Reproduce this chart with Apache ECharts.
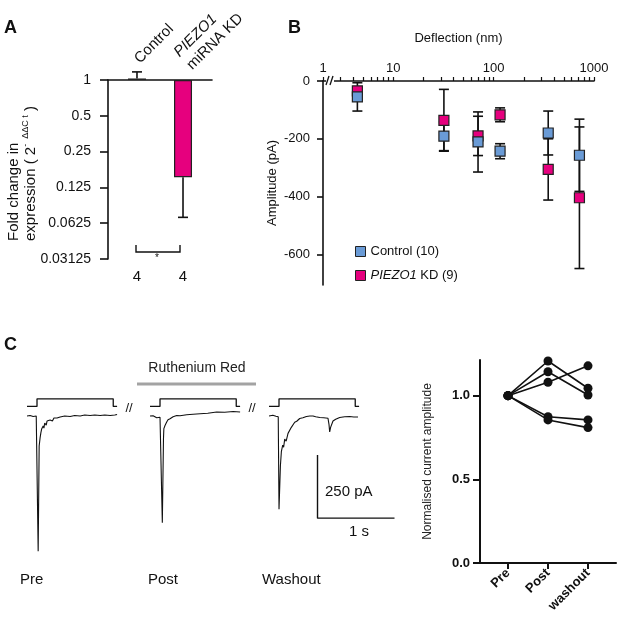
<!DOCTYPE html>
<html><head><meta charset="utf-8">
<script src="https://cdn.jsdelivr.net/npm/echarts@6/dist/echarts.min.js"></script>
<style>html,body{margin:0;padding:0;background:#fff}#c{width:617px;height:630px}</style>
</head><body><div id="c"></div>
<script>
// ---------- Panel A ----------
const aCategories = ['Control', 'PIEZO1 miRNA KD'];
const aFoldChange = [1.03, 0.152];
const aErrEnd = [1.17, 0.070];
const aN = [4, 4];
const aYTicks = [1, 0.5, 0.25, 0.125, 0.0625, 0.03125];

// ---------- Panel B ----------
const bDeflection = [4.4, 32, 70, 116, 350, 716];
const bControlMean = [-55, -191, -211, -243, -180, -257];
const bControlErr = [49, 50, 104, 26, 76, 125];
const bKdMean = [-34, -136, -190, -117, -306, -404];
const bKdErr = [12, 107, 68, 24, 106, 245];
const bXTickValues = [2, 10, 100, 1000];
const bXTickLabels = ['1', '10', '100', '1000'];
const bXMinorTicks = [3,4,5,6,7,8,9,20,30,40,50,60,70,80,90,200,300,400,500,600,700,800,900];
const bYTicks = [0, -200, -400, -600];

// ---------- Panel C traces (time in s, current in pA) ----------
const preT = [0,0.04,0.08,0.12,0.14,0.145,0.158,0.17,0.18,0.19,0.21,0.22,0.23,0.25,0.26,0.27,0.30,0.33,0.35,0.39,0.43,0.49,0.56,0.62,0.69,0.75,0.82,0.88,0.95,1.01,1.08,1.14,1.17];
const preI = [0,2,-2,0,-4,-536,-119,-87,-67,-52,-40,-48,-28,-36,-20,-24,-16,-20,-8,-8,-4,0,-2,2,0,4,2,4,2,4,2,4,6];
const postT = [0,0.04,0.087,0.13,0.15,0.16,0.175,0.18,0.195,0.217,0.234,0.26,0.30,0.347,0.39,0.477,0.56,0.65,0.75,0.866,0.97,1.08,1.17];
const postI = [0,1,-7,-5,-11,-423,-90,-50,-38,-24,-15,-11,-3,2,1,5,7,9,11,16,15,18,16];
const washT = [0,0.05,0.09,0.12,0.13,0.148,0.161,0.178,0.19,0.204,0.223,0.247,0.269,0.29,0.308,0.334,0.36,0.399,0.44,0.486,0.53,0.571,0.607,0.659,0.71,0.766,0.779,0.788,0.80,0.831,0.866,0.918,0.983,1.048,1.10,1.156];
const washI = [0,3,-1,-3,-370,-198,-140,-116,-124,-92,-100,-69,-65,-45,-49,-25,-21,-10,-7,-2,0,0,-3,-6,-7,-9,-33,-63,-45,-20,-13,-6,-3,-2,-4,-4];
const stimT = [0,0.13,0.13,1.12,1.12,1.17];
const stimLevel = [38,38,68,68,38,38];
const scaleBarT0 = 0.63, scaleBarI0 = -155, scaleBarPA = 250, scaleBarS = 1;
const traceNames = ['Pre', 'Post', 'Washout'];

// ---------- Panel C right ----------
const cConditions = ['Pre', 'Post', 'washout'];
const cPre = [1, 1, 1, 1, 1];
const cPost = [1.207, 1.143, 1.080, 0.874, 0.855];
const cWash = [1.044, 1.004, 1.178, 0.855, 0.809];

const FONT = 'Liberation Sans, Arial, sans-serif';
const PINK = '#e6007e', BLUE = '#6a9bd6', INK = '#111';
const zip = (a, b) => a.map((v, i) => [v, b[i]]);

const chart = echarts.init(document.getElementById('c'), null, {renderer: 'canvas'});

function errBarB(api) {
  const x = api.value(0), m = api.value(1), e = api.value(2);
  const t = api.coord([x, m + e]), b = api.coord([x, m - e]);
  const st = {stroke: INK, lineWidth: 1.6};
  return {type: 'group', children: [
    {type: 'line', shape: {x1: t[0], y1: t[1], x2: b[0], y2: b[1]}, style: st},
    {type: 'line', shape: {x1: t[0]-5, y1: t[1], x2: t[0]+5, y2: t[1]}, style: st},
    {type: 'line', shape: {x1: b[0]-5, y1: b[1], x2: b[0]+5, y2: b[1]}, style: st}
  ]};
}
function errBarA(params, api) {
  const x = api.value(0), m = api.value(1), e = api.value(2);
  const p0 = api.coord([x, m]), p1 = api.coord([x, e]);
  const st = {stroke: INK, lineWidth: 1.6};
  return {type: 'group', children: [
    {type: 'line', shape: {x1: p0[0], y1: p0[1], x2: p1[0], y2: p1[1]}, style: st},
    {type: 'line', shape: {x1: p1[0]-5, y1: p1[1], x2: p1[0]+5, y2: p1[1]}, style: st}
  ]};
}

const axisLine = (w) => ({show: true, onZero: false, lineStyle: {color: INK, width: w}});

const traceGrid = {top: 390, height: 170, outerBoundsMode: 'none', containLabel: false};
const option = {
  backgroundColor: '#fff',
  animation: false,
  textStyle: {fontFamily: FONT, color: INK},
  grid: [
    {left: 108, top: 80, width: 104, height: 179, outerBoundsMode: 'none', containLabel: false},
    {left: 323, top: 81, width: 271, height: 204, outerBoundsMode: 'none', containLabel: false},
    Object.assign({left: 27, width: 90}, traceGrid),
    Object.assign({left: 150, width: 90}, traceGrid),
    Object.assign({left: 269, width: 131}, traceGrid),
    {left: 480, top: 360, width: 136, height: 203, outerBoundsMode: 'none', containLabel: false}
  ],
  xAxis: [
    {gridIndex: 0, type: 'value', position: 'top', min: -0.63, max: 1.63,
     axisLine: axisLine(1.6), axisTick: {show: false}, splitLine: {show: false},
     axisLabel: {customValues: [0, 1], rotate: -45, margin: 19, fontSize: 15, lineHeight: 18, color: INK, fontFamily: FONT,
       formatter: v => v === 0 ? aCategories[0] : '{i|PIEZO1}\nmiRNA KD',
       rich: {i: {fontStyle: 'italic', fontSize: 15, lineHeight: 18, fontFamily: FONT, color: INK}}}},
    {gridIndex: 0, type: 'value', position: 'bottom', min: -0.63, max: 1.63,
     axisLine: {show: false}, axisTick: {show: false}, splitLine: {show: false},
     axisLabel: {customValues: [0, 1], margin: 10, fontSize: 15, color: INK, fontFamily: FONT,
       formatter: v => String(aN[Math.round(v)])}},
    {gridIndex: 1, type: 'log', logBase: 10, position: 'top', min: 2, max: 1000,
     axisLine: axisLine(1.6), splitLine: {show: false},
     axisTick: {show: true, length: 4, customValues: bXTickValues.concat(bXMinorTicks), lineStyle: {color: INK, width: 1.2}},
     axisLabel: {customValues: bXTickValues, margin: 6, fontSize: 13, color: INK, fontFamily: FONT,
       formatter: v => bXTickLabels[bXTickValues.indexOf(Math.round(v))]},
     name: 'Deflection (nm)', nameLocation: 'middle', nameGap: 36,
     nameTextStyle: {fontSize: 13, color: INK, fontFamily: FONT}},
    {gridIndex: 2, type: 'value', min: 0, max: 90/77, show: false},
    {gridIndex: 3, type: 'value', min: 0, max: 90/77, show: false},
    {gridIndex: 4, type: 'value', min: 0, max: 131/77, show: false},
    {gridIndex: 5, type: 'value', min: -0.7, max: 2.7,
     axisLine: axisLine(2), splitLine: {show: false},
     axisTick: {customValues: [0, 1, 2], length: 6, lineStyle: {color: INK, width: 2}},
     axisLabel: {customValues: [0, 1, 2], rotate: 45, margin: 8, fontSize: 13, fontWeight: 'bold', color: INK, fontFamily: FONT,
       formatter: v => cConditions[Math.round(v)]}}
  ],
  yAxis: [
    {gridIndex: 0, type: 'log', logBase: 2, min: 0.03125, max: 1,
     axisLine: axisLine(1.6), splitLine: {show: false},
     axisTick: {customValues: aYTicks, length: 8, lineStyle: {color: INK, width: 1.6}},
     axisLabel: {customValues: aYTicks, margin: 17, fontSize: 14, color: INK, fontFamily: FONT, formatter: v => String(v)}},
    {gridIndex: 1, type: 'value', min: -706, max: 0,
     axisLine: axisLine(1.6), splitLine: {show: false},
     axisTick: {customValues: bYTicks, length: 6, lineStyle: {color: INK, width: 1.6}},
     axisLabel: {customValues: bYTicks, margin: 13, fontSize: 13, color: INK, fontFamily: FONT},
     name: 'Amplitude (pA)', nameLocation: 'middle', nameGap: 44, nameRotate: 90,
     nameTextStyle: {fontSize: 13, color: INK, fontFamily: FONT}},
    {gridIndex: 2, type: 'value', min: -571, max: 103, show: false},
    {gridIndex: 3, type: 'value', min: -571, max: 103, show: false},
    {gridIndex: 4, type: 'value', min: -571, max: 103, show: false},
    {gridIndex: 5, type: 'value', min: 0, max: 1.213,
     axisLine: axisLine(2), splitLine: {show: false},
     axisTick: {customValues: [0, 0.5, 1], length: 7, lineStyle: {color: INK, width: 2}},
     axisLabel: {customValues: [0, 0.5, 1], margin: 10, fontSize: 13, fontWeight: 'bold', color: INK, fontFamily: FONT,
       formatter: v => v.toFixed(1)},
     name: 'Normalised current amplitude', nameLocation: 'middle', nameGap: 46, nameRotate: 90,
     nameTextStyle: {fontSize: 12, color: '#222', fontFamily: FONT}}
  ],
  legend: {
    left: 350, top: 240, orient: 'vertical', itemWidth: 10, itemHeight: 10, itemGap: 11,
    icon: 'rect', data: ['Control (10)', 'PIEZO1 KD (9)'],
    itemStyle: {borderColor: '#222', borderWidth: 1},
    textStyle: {fontSize: 13, color: INK, fontFamily: FONT,
      rich: {i: {fontStyle: 'italic', fontSize: 13, color: INK, fontFamily: FONT}}},
    formatter: n => n.indexOf('PIEZO1') === 0 ? '{i|PIEZO1} KD (9)' : n
  },
  series: [
    // Panel A
    {type: 'bar', xAxisIndex: 0, yAxisIndex: 0, barWidth: 18, clip: false,
     data: aFoldChange.map((v, i) => ({value: [i, v], itemStyle: {color: i === 0 ? '#fff' : PINK}})),
     itemStyle: {borderColor: '#222', borderWidth: 1.2}, z: 2},
    {type: 'custom', xAxisIndex: 0, yAxisIndex: 0, clip: false, renderItem: errBarA,
     data: aFoldChange.map((v, i) => [i, v, aErrEnd[i]]), z: 1},
    // Panel B error bars
    {type: 'custom', xAxisIndex: 2, yAxisIndex: 1, clip: false, renderItem: (p, api) => errBarB(api),
     data: bDeflection.map((x, i) => [x, bKdMean[i], bKdErr[i]]), z: 1},
    {type: 'custom', xAxisIndex: 2, yAxisIndex: 1, clip: false, renderItem: (p, api) => errBarB(api),
     data: bDeflection.map((x, i) => [x, bControlMean[i], bControlErr[i]]), z: 1},
    {name: 'PIEZO1 KD (9)', type: 'scatter', xAxisIndex: 2, yAxisIndex: 1, symbol: 'rect', symbolSize: 10,
     itemStyle: {color: PINK, borderColor: '#222', borderWidth: 1.2, opacity: 1},
     data: zip(bDeflection, bKdMean), z: 3},
    {name: 'Control (10)', type: 'scatter', xAxisIndex: 2, yAxisIndex: 1, symbol: 'rect', symbolSize: 10,
     itemStyle: {color: BLUE, borderColor: '#222', borderWidth: 1.2, opacity: 1},
     data: zip(bDeflection, bControlMean), z: 4},
    // Panel C traces
    ...[[preT, preI], [postT, postI], [washT, washI]].map((tr, k) => ({
      name: traceNames[k], type: 'line', xAxisIndex: 3 + k, yAxisIndex: 2 + k, showSymbol: false, clip: false,
      lineStyle: {color: INK, width: 1.1}, data: zip(tr[0], tr[1])})),
    ...[0, 1, 2].map(k => ({
      type: 'line', xAxisIndex: 3 + k, yAxisIndex: 2 + k, showSymbol: false, clip: false,
      lineStyle: {color: INK, width: 1.3}, data: zip(stimT, stimLevel)})),
    {type: 'line', xAxisIndex: 5, yAxisIndex: 4, showSymbol: false, clip: false,
     lineStyle: {color: INK, width: 1.4},
     data: [[scaleBarT0, scaleBarI0], [scaleBarT0, scaleBarI0 - scaleBarPA], [scaleBarT0 + scaleBarS, scaleBarI0 - scaleBarPA]]},
    // Panel C right
    ...cPost.map((v, i) => ({
      type: 'line', xAxisIndex: 6, yAxisIndex: 5, symbol: 'circle', symbolSize: 9,
      itemStyle: {color: INK}, lineStyle: {color: INK, width: 1.6},
      data: [[0, cPre[i]], [1, cPost[i]], [2, cWash[i]]]}))
  ],
  graphic: [
    {type: 'text', x: 4, y: 19, style: {text: 'A', fontSize: 18, fontWeight: 'bold', fontFamily: FONT, fill: INK}},
    {type: 'text', x: 288, y: 19, style: {text: 'B', fontSize: 18, fontWeight: 'bold', fontFamily: FONT, fill: INK}},
    {type: 'text', x: 4, y: 336, style: {text: 'C', fontSize: 18, fontWeight: 'bold', fontFamily: FONT, fill: INK}},
    // Panel A y title
    {type: 'text', x: 14, y: 241, rotation: Math.PI / 2,
     style: {text: 'Fold change in', fontSize: 15, fontFamily: FONT, fill: INK, align: 'left', verticalAlign: 'middle'}},
    {type: 'text', x: 31, y: 241, rotation: Math.PI / 2,
     style: {text: 'expression ( 2{s|-  ΔΔC t} )', fontSize: 15, fontFamily: FONT, fill: INK, align: 'left', verticalAlign: 'middle',
       rich: {s: {fontSize: 9, fontFamily: FONT, fill: INK, verticalAlign: 'top', lineHeight: 20}}}},
    // significance bracket
    {type: 'polyline', shape: {points: [[136, 245], [136, 252], [180, 252], [180, 245]]}, style: {stroke: INK, lineWidth: 1.4, fill: null}},
    {type: 'text', x: 157, y: 258, style: {text: '*', fontSize: 10, fontFamily: FONT, fill: INK, align: 'center', verticalAlign: 'middle'}},
    // Panel B axis break
    {type: 'rect', shape: {x: 326, y: 76, width: 8, height: 9}, style: {fill: '#fff'}, z: 100},
    {type: 'line', shape: {x1: 326, y1: 85, x2: 329, y2: 76}, style: {stroke: INK, lineWidth: 1.3}, z: 101},
    {type: 'line', shape: {x1: 330, y1: 85, x2: 333, y2: 76}, style: {stroke: INK, lineWidth: 1.3}, z: 101},
    // Panel C annotations
    {type: 'text', x: 197, y: 368, style: {text: 'Ruthenium Red', fontSize: 14, fontFamily: FONT, fill: '#222', align: 'center', verticalAlign: 'middle'}},
    {type: 'line', shape: {x1: 137, y1: 384, x2: 256, y2: 384}, style: {stroke: '#a3a3a3', lineWidth: 3}},
    {type: 'text', x: 129, y: 408, style: {text: '//', fontSize: 13, fontFamily: FONT, fill: INK, align: 'center', verticalAlign: 'middle'}},
    {type: 'text', x: 252, y: 408, style: {text: '//', fontSize: 13, fontFamily: FONT, fill: INK, align: 'center', verticalAlign: 'middle'}},
    {type: 'text', x: 325, y: 492, style: {text: '250 pA', fontSize: 15, fontFamily: FONT, fill: INK, align: 'left', verticalAlign: 'middle'}},
    {type: 'text', x: 359, y: 532, style: {text: '1 s', fontSize: 15, fontFamily: FONT, fill: INK, align: 'center', verticalAlign: 'middle'}},
    {type: 'text', x: 20, y: 580, style: {text: traceNames[0], fontSize: 15, fontFamily: FONT, fill: INK, align: 'left', verticalAlign: 'middle'}},
    {type: 'text', x: 148, y: 580, style: {text: traceNames[1], fontSize: 15, fontFamily: FONT, fill: INK, align: 'left', verticalAlign: 'middle'}},
    {type: 'text', x: 262, y: 580, style: {text: traceNames[2], fontSize: 15, fontFamily: FONT, fill: INK, align: 'left', verticalAlign: 'middle'}}
  ]
};
chart.setOption(option);
</script></body></html>
